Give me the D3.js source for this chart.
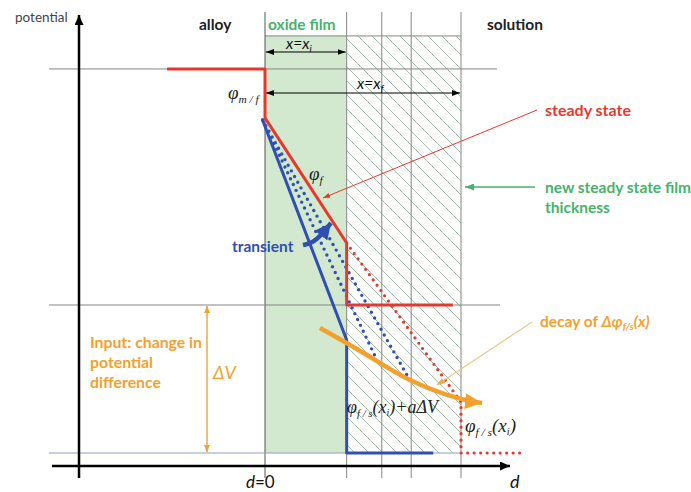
<!DOCTYPE html>
<html>
<head>
<meta charset="utf-8">
<script src="https://cdn.jsdelivr.net/npm/d3@7"></script>
<style>
  body { margin: 0; background: #fff; }
  svg { display: block; }
  .sans { font-family: Lato, "Open Sans", sans-serif; }
  .serif { font-family: "Liberation Serif", "DejaVu Serif", serif; font-style: italic; }
</style>
</head>
<body>
<svg id="fig" width="691" height="492"></svg>
<script>
// ---- schematic data (d in film units, potential with ΔV = 1) ----
const filmStart = 0;          // d = 0, alloy / oxide interface
const filmInitial = 1;        // x = x_i
const filmFinal = 2.4;        // x = x_f
const gridD = [0, 1, 1.43, 1.79, 2.4];          // vertical guide lines
const guideLevels = [2.595, 1];                  // grey horizontal guides
const baseLevel = 0;                             // lowest level
const topLevel = 2.818;                          // top edge of film boxes

const steadyState    = [[-1.2, 2.595], [0, 2.595], [0, 2.264], [1, 1.419], [1, 1], [2.3, 1]];
const steadyNew      = [[1, 1.419], [2.4, 0.345], [2.4, 0], [3.16, 0]];
const transientLine  = [[-0.03, 2.25], [1, 0.764], [1, 0], [2.06, 0]];
const transientDots1 = [[-0.03, 2.25], [1.371, 0.628]];
const transientDots2 = [[-0.03, 2.25], [1.751, 0.514]];
const decayArrow     = [[0.673, 0.845], [1.249, 0.662], [1.775, 0.493], [2.351, 0.372], [2.657, 0.338]];
const transientArrow = [[0.465, 1.405], [0.588, 1.419], [0.71, 1.486], [0.808, 1.554]];

// ---- scales ----
const x = d3.scaleLinear().domain([0, 2.4]).range([265, 461]);
const y = d3.scaleLinear().domain([0, 1]).range([453, 305]);

const svg = d3.select("#fig");
const defs = svg.append("defs");

const RED = "#e5392f", BLUE = "#2f4fb2", ORANGE = "#f4a12c", GREEN = "#48b26c";
const FILL = "#d2e9cf", HATCH = "#a3bdaa", GUIDE = "#858585";

// hatch pattern for the region the film grows into
const pat = defs.append("pattern")
  .attr("id", "hatch").attr("patternUnits", "userSpaceOnUse")
  .attr("width", 14).attr("height", 14);
pat.append("path")
  .attr("d", "M0,0 L14,14 M-7,7 L7,21 M7,-7 L21,7")
  .attr("stroke", HATCH).attr("stroke-width", 1).attr("fill", "none");

// arrowhead markers
function marker(id, color, w, h, orient) {
  defs.append("marker")
    .attr("id", id).attr("viewBox", `0 0 ${w} ${h}`)
    .attr("refX", w).attr("refY", h / 2)
    .attr("markerWidth", w).attr("markerHeight", h)
    .attr("markerUnits", "userSpaceOnUse")
    .attr("orient", orient || "auto-start-reverse")
    .append("path").attr("d", `M0,0 L${w},${h / 2} L0,${h} Z`).attr("fill", color);
}
marker("axisHead", "#000", 10, 9);
marker("dimHead", "#000", 8, 6);
marker("redHead", RED, 7, 5);
marker("greenHead", GREEN, 9, 7);
marker("orangeThin", ORANGE, 7, 6);
marker("tanHead", "#f0b040", 8, 6);
marker("orangeBig", ORANGE, 17, 16);
marker("blueBig", BLUE, 16, 16);

const line = d3.line().x(d => x(d[0])).y(d => y(d[1]));

// film regions
svg.append("rect")
  .attr("x", x(filmStart)).attr("y", y(topLevel))
  .attr("width", x(filmInitial) - x(filmStart)).attr("height", y(baseLevel) - y(topLevel))
  .attr("fill", FILL);
svg.append("rect")
  .attr("x", x(filmInitial)).attr("y", y(topLevel))
  .attr("width", x(filmFinal) - x(filmInitial)).attr("height", y(baseLevel) - y(topLevel))
  .attr("fill", "url(#hatch)");

// guide lines
svg.append("line")
  .attr("x1", x(filmStart)).attr("x2", x(filmFinal))
  .attr("y1", y(topLevel)).attr("y2", y(topLevel))
  .attr("stroke", GUIDE).attr("stroke-width", 1);
svg.selectAll(".vguide").data(gridD).join("line")
  .attr("class", "vguide")
  .attr("x1", d => x(d)).attr("x2", d => x(d))
  .attr("y1", 12).attr("y2", 478)
  .attr("stroke", d => d === 0 ? "#555" : GUIDE).attr("stroke-width", 1);
svg.append("line")
  .attr("x1", 49).attr("x2", 497).attr("y1", y(guideLevels[0])).attr("y2", y(guideLevels[0]))
  .attr("stroke", GUIDE).attr("stroke-width", 1);
svg.append("line")
  .attr("x1", 49).attr("x2", 500).attr("y1", y(guideLevels[1])).attr("y2", y(guideLevels[1]))
  .attr("stroke", GUIDE).attr("stroke-width", 1);
svg.append("line")
  .attr("x1", 49).attr("x2", x(filmFinal)).attr("y1", y(baseLevel)).attr("y2", y(baseLevel))
  .attr("stroke", "#8fa0b8").attr("stroke-width", 1.2);

// axes
svg.append("line")
  .attr("x1", 79).attr("x2", 79).attr("y1", 478).attr("y2", 15)
  .attr("stroke", "#000").attr("stroke-width", 2.5).attr("marker-end", "url(#axisHead)");
svg.append("line")
  .attr("x1", 52).attr("x2", 510).attr("y1", 466).attr("y2", 466)
  .attr("stroke", "#000").attr("stroke-width", 2.5).attr("marker-end", "url(#axisHead)");

// dimension arrows for film thickness
svg.append("line")
  .attr("x1", x(filmStart) + 1).attr("x2", x(filmInitial) - 1).attr("y1", 52).attr("y2", 52)
  .attr("stroke", "#000").attr("stroke-width", 1.2)
  .attr("marker-start", "url(#dimHead)").attr("marker-end", "url(#dimHead)");
svg.append("line")
  .attr("x1", x(filmStart) + 1).attr("x2", x(filmFinal) - 1).attr("y1", 93).attr("y2", 93)
  .attr("stroke", "#000").attr("stroke-width", 1.2)
  .attr("marker-start", "url(#dimHead)").attr("marker-end", "url(#dimHead)");

// ΔV arrow
svg.append("line")
  .attr("x1", 207).attr("x2", 207).attr("y1", y(1) + 1).attr("y2", y(0) - 1)
  .attr("stroke", ORANGE).attr("stroke-width", 1.4)
  .attr("marker-start", "url(#orangeThin)").attr("marker-end", "url(#orangeThin)");

// potential profiles
svg.append("path").attr("d", line(transientLine))
  .attr("fill", "none").attr("stroke", BLUE).attr("stroke-width", 3).attr("stroke-linejoin", "round");
[transientDots1, transientDots2].forEach(seg => {
  svg.append("path").attr("d", line(seg))
    .attr("fill", "none").attr("stroke", BLUE).attr("stroke-width", 3.4)
    .attr("stroke-linecap", "round").attr("stroke-dasharray", "0 6.5");
});
svg.append("path").attr("d", line(steadyState))
  .attr("fill", "none").attr("stroke", RED).attr("stroke-width", 3).attr("stroke-linejoin", "round");
svg.append("path").attr("d", line(steadyNew))
  .attr("fill", "none").attr("stroke", RED).attr("stroke-width", 3.2)
  .attr("stroke-linecap", "round").attr("stroke-dasharray", "0 6.5");

// transient arrow
svg.append("path")
  .attr("d", d3.line().x(d => x(d[0])).y(d => y(d[1])).curve(d3.curveBasis)(transientArrow))
  .attr("fill", "none").attr("stroke", BLUE).attr("stroke-width", 4.5)
  .attr("marker-end", "url(#blueBig)");

// decay arrow
svg.append("path")
  .attr("d", d3.line().x(d => x(d[0])).y(d => y(d[1])).curve(d3.curveNatural)(decayArrow))
  .attr("fill", "none").attr("stroke", ORANGE).attr("stroke-width", 4.5)
  .attr("marker-end", "url(#orangeBig)");

// annotation leaders
svg.append("line")
  .attr("x1", 537).attr("y1", 110).attr("x2", 323).attr("y2", 198)
  .attr("stroke", RED).attr("stroke-width", 1).attr("marker-end", "url(#redHead)");
svg.append("line")
  .attr("x1", 535).attr("y1", 187).attr("x2", 465).attr("y2", 187)
  .attr("stroke", GREEN).attr("stroke-width", 1.3).attr("marker-end", "url(#greenHead)");
svg.append("line")
  .attr("x1", 532).attr("y1", 322).attr("x2", 437).attr("y2", 385)
  .attr("stroke", "#e9c98a").attr("stroke-width", 1.2).attr("marker-end", "url(#tanHead)");

// ---- text ----
function txt(s, px, py, cls, size, color, weight) {
  return svg.append("text").attr("class", cls).attr("x", px).attr("y", py)
    .attr("font-size", size).attr("fill", color).attr("font-weight", weight || "normal").text(s);
}
txt("potential", 15, 22, "sans", 13.5, "#444");
txt("alloy", 199, 30, "sans", 15.5, "#222", "bold");
txt("oxide film", 268, 30, "sans", 15.5, GREEN, "bold");
txt("solution", 487, 30, "sans", 15.5, "#222", "bold");
txt("steady state", 545, 116, "sans", 16, RED, "bold");
txt("new steady state film", 545, 193, "sans", 15.5, GREEN, "bold");
txt("thickness", 545, 213, "sans", 15.5, GREEN, "bold");
txt("transient", 232, 252, "sans", 15.5, BLUE, "bold");
txt("Input: change in", 90, 348, "sans", 15.8, ORANGE, "bold");
txt("potential", 90, 368, "sans", 15.8, ORANGE, "bold");
txt("difference", 90, 388, "sans", 15.8, ORANGE, "bold");
txt("ΔV", 213, 379, "sans", 18, ORANGE).attr("font-style", "italic");

// decay of Δφ_f/s(x)
const dec = txt("decay of ", 540, 327, "sans", 15.5, ORANGE, "bold");
dec.append("tspan").attr("font-style", "italic").text("Δφ");
dec.append("tspan").attr("font-style", "italic").attr("font-size", 10).attr("dy", 3).text("f/s");
dec.append("tspan").attr("font-style", "italic").attr("dy", -3).text("(x)");

// dimension labels
const xi = txt("x=x", 286, 49, "sans", 15.5, "#111").attr("font-style", "italic");
xi.append("tspan").attr("font-size", 10).attr("dy", 3).text("i");
const xf = txt("x=x", 357, 89, "sans", 15.5, "#111").attr("font-style", "italic");
xf.append("tspan").attr("font-size", 10).attr("dy", 3).text("f");

txt("d", 246, 488, "sans", 17, "#111").attr("font-style", "italic")
  .append("tspan").attr("font-style", "normal").text("=0");
txt("d", 510, 488, "sans", 18, "#111").attr("font-style", "italic");

// potential symbols
function phi(px, py, sub, tail, size) {
  const t = txt("φ", px, py, "serif", size, "#222");
  t.append("tspan").attr("font-size", size * 0.6).attr("dy", 4).text(sub);
  if (tail) tail(t, size);
  return t;
}
phi(228, 99, "m / f", null, 19);
phi(309, 180, "f", null, 19);
phi(347, 413, "f / s", (t, s) => {
  t.append("tspan").attr("dy", -4).text("(x");
  t.append("tspan").attr("font-size", s * 0.55).attr("dy", 3).text("i");
  t.append("tspan").attr("dy", -3).text(")+aΔV");
}, 18);
phi(465, 432, "f / s", (t, s) => {
  t.append("tspan").attr("dy", -4).text("(x");
  t.append("tspan").attr("font-size", s * 0.55).attr("dy", 3).text("i");
  t.append("tspan").attr("dy", -3).text(")");
}, 19);
</script>
</body>
</html>
